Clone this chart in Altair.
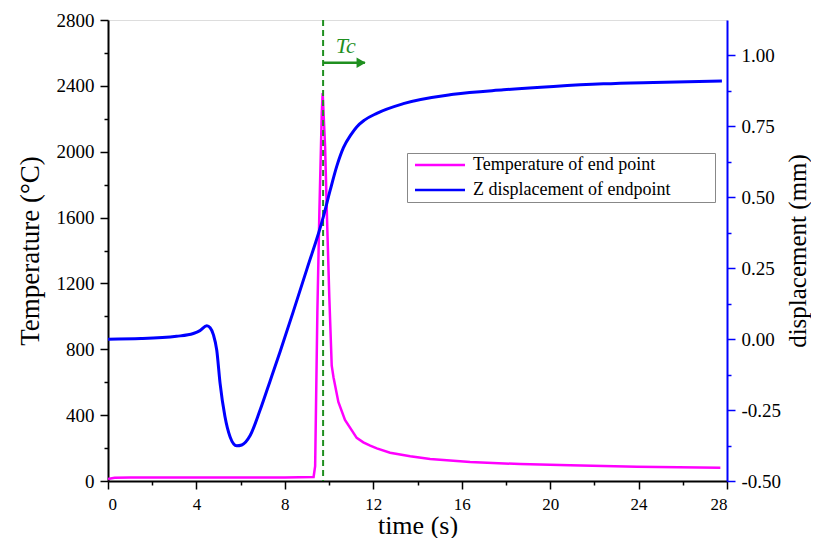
import altair as alt
import pandas as pd

# ---- data ----
temp_time = [0, 0.3, 1.0, 4.0, 8.0, 9.3, 9.37, 9.47, 9.56, 9.67, 9.71, 9.82, 9.9,
             10.01, 10.12, 10.2, 10.42, 10.72, 11.25, 11.55, 11.86, 12.16, 12.76, 13.67,
             14.57, 16.38, 18.64, 20.9, 23.92, 27.7]
temp_vals = [12, 20, 22, 22, 22, 24, 90, 1020, 1628, 2235, 2357, 2031, 1628,
             1120, 700, 630, 480, 371, 262, 235, 215, 198, 172, 150,
             133, 115, 103, 95, 87, 81]

disp_time = [0, 1.5, 3.1, 3.86, 4.16, 4.47, 4.62, 4.77, 4.92, 5.07, 5.29, 5.52,
             5.82, 6.05, 6.43, 6.88, 7.33, 7.78, 8.38, 8.99, 9.74, 10.05, 10.35,
             10.65, 11.0, 11.25, 11.6, 12.16, 13.36, 15.63, 17.89, 20.15, 22.41, 24.67, 27.77]
disp_vals = [0.0, 0.002, 0.01, 0.02, 0.03, 0.047, 0.04, 0.015, -0.039, -0.156,
             -0.273, -0.344, -0.376, -0.373, -0.34, -0.25, -0.148, -0.045, 0.097,
             0.245, 0.431, 0.525, 0.61, 0.675, 0.722, 0.748, 0.772, 0.796, 0.83, 0.863,
             0.879, 0.891, 0.9, 0.905, 0.91]

series_names = ["Temperature of end point", "Z displacement of endpoint"]
series_colors = ["#FF00FF", "#0000FF"]

tc_time = [9.73]
arrow_start = [9.73]
arrow_end = [11.62]
arrow_head = [11.45]
arrow_level = [2540]
tc_label = ["Tc"]
tc_label_time = [10.75]
tc_label_level = [2645]

x_ticks = [0, 2, 4, 6, 8, 10, 12, 14, 16, 18, 20, 22, 24, 26, 28]
temp_ticks = [0, 200, 400, 600, 800, 1000, 1200, 1400, 1600, 1800, 2000,
              2200, 2400, 2600, 2800]
disp_ticks = [-0.5, -0.375, -0.25, -0.125, 0.0, 0.125, 0.25, 0.375, 0.5,
              0.625, 0.75, 0.875, 1.0]

SERIF = "Liberation Serif"
GREEN = "#1f8f1f"

temp_df = pd.DataFrame({"t": temp_time, "v": temp_vals, "series": series_names[0]})
disp_df = pd.DataFrame({"t": disp_time, "v": disp_vals, "series": series_names[1]})
tc_df = pd.DataFrame({"t": tc_time})
arrow_df = pd.DataFrame({"t": arrow_start, "t2": arrow_end, "v": arrow_level})
head_df = pd.DataFrame({"t": arrow_head, "v": arrow_level})
label_df = pd.DataFrame({"t": tc_label_time, "v": tc_label_level, "txt": tc_label})

x_scale = alt.Scale(domain=[0, 28], nice=False, zero=False)
x_axis = alt.Axis(
    values=x_ticks,
    labelExpr="datum.value % 4 === 0 ? datum.label : ''",
    tickSize={"condition": {"test": "datum.value % 4 === 0", "value": 8}, "value": 4},
    title="time (s)", grid=False, labelOverlap=False,
    domainColor="black", domainWidth=2, tickColor="black", tickWidth=1.5,
    labelFont=SERIF, labelFontSize=17, labelColor="black", labelPadding=7,
    titleFont=SERIF, titleFontSize=26, titleFontWeight="normal", titleColor="black",
    titlePadding=0,
)
t_scale = alt.Scale(domain=[0, 2800], nice=False, zero=False)
t_axis = alt.Axis(
    values=temp_ticks,
    labelExpr="datum.value % 400 === 0 ? datum.label : ''",
    tickSize={"condition": {"test": "datum.value % 400 === 0", "value": 8}, "value": 4},
    title="Temperature (°C)", grid=False, labelOverlap=False, format="d",
    domainColor="black", domainWidth=2, tickColor="black", tickWidth=1.5,
    labelFont=SERIF, labelFontSize=19, labelColor="black", labelPadding=6,
    titleFont=SERIF, titleFontSize=27, titleFontWeight="normal", titleColor="black",
    titlePadding=12,
)
d_test = "abs(datum.value*4 - round(datum.value*4)) < 1e-6"
d_scale = alt.Scale(domain=[-0.5, 1.125], nice=False, zero=False)
d_axis = alt.Axis(
    orient="right",
    values=disp_ticks,
    format=".2f",
    labelExpr=d_test + " ? replace(datum.label, '\u2212', '-') : ''",
    tickSize={"condition": {"test": d_test, "value": 8}, "value": 4},
    title="displacement (mm)", grid=False, labelOverlap=False,
    domainColor="#0000FF", domainWidth=2, tickColor="#0000FF", tickWidth=1.5,
    labelFont=SERIF, labelFontSize=19, labelColor="black", labelPadding=6,
    titleFont=SERIF, titleFontSize=25, titleFontWeight="normal", titleColor="black",
    titleAngle=270, titleBaseline="top", titlePadding=5,
)


def X(field="t"):
    return alt.X(f"{field}:Q", scale=x_scale, axis=x_axis)


def YT(field="v"):
    return alt.Y(f"{field}:Q", scale=t_scale, axis=t_axis)


color_enc = alt.Color(
    "series:N",
    scale=alt.Scale(domain=series_names, range=series_colors),
    legend=alt.Legend(
        orient="none", legendX=299, legendY=133,
        title=" ", titleOrient="right", titlePadding=42,
        symbolType="M-5,0H5", symbolSize=100, symbolStrokeWidth=2.5,
        symbolOffset=21, labelOffset=24, labelFont=SERIF, labelFontSize=18,
        labelColor="black", labelLimit=400,
        strokeColor="#888888", fillColor="white", padding=3, rowPadding=7,
    ),
)

temp_line = alt.Chart(temp_df).mark_line(strokeWidth=2.5).encode(
    x=X(), y=YT(), color=color_enc
)
tc_rule = alt.Chart(tc_df).mark_rule(color=GREEN, strokeWidth=2, strokeDash=[6, 4]).encode(
    x=X()
)
arrow_rule = alt.Chart(arrow_df).mark_rule(color=GREEN, strokeWidth=2.5).encode(
    x=X(), x2="t2:Q", y=YT()
)
arrow_tip = alt.Chart(head_df).mark_point(
    shape="triangle-right", filled=True, color=GREEN, size=110, opacity=1
).encode(x=X(), y=YT())
tc_text = alt.Chart(label_df).mark_text(
    font=SERIF, fontSize=22, fontStyle="italic", color=GREEN
).encode(x=X(), y=YT(), text="txt:N")

left = alt.layer(temp_line, tc_rule, arrow_rule, arrow_tip, tc_text)

disp_line = alt.Chart(disp_df).mark_line(strokeWidth=3, interpolate="monotone").encode(
    x=X(),
    y=alt.Y("v:Q", scale=d_scale, axis=d_axis),
    color=color_enc,
)

chart = (
    alt.layer(left, disp_line)
    .resolve_scale(y="independent")
    .properties(width=619, height=461,
                padding={"left": 8, "top": 3, "right": 0, "bottom": 0})
    .configure_view(stroke="#0000FF", strokeWidth=2)
    .configure(background="white")
)

chart.save("out.html", embed_options={"renderer": "svg", "actions": False})
